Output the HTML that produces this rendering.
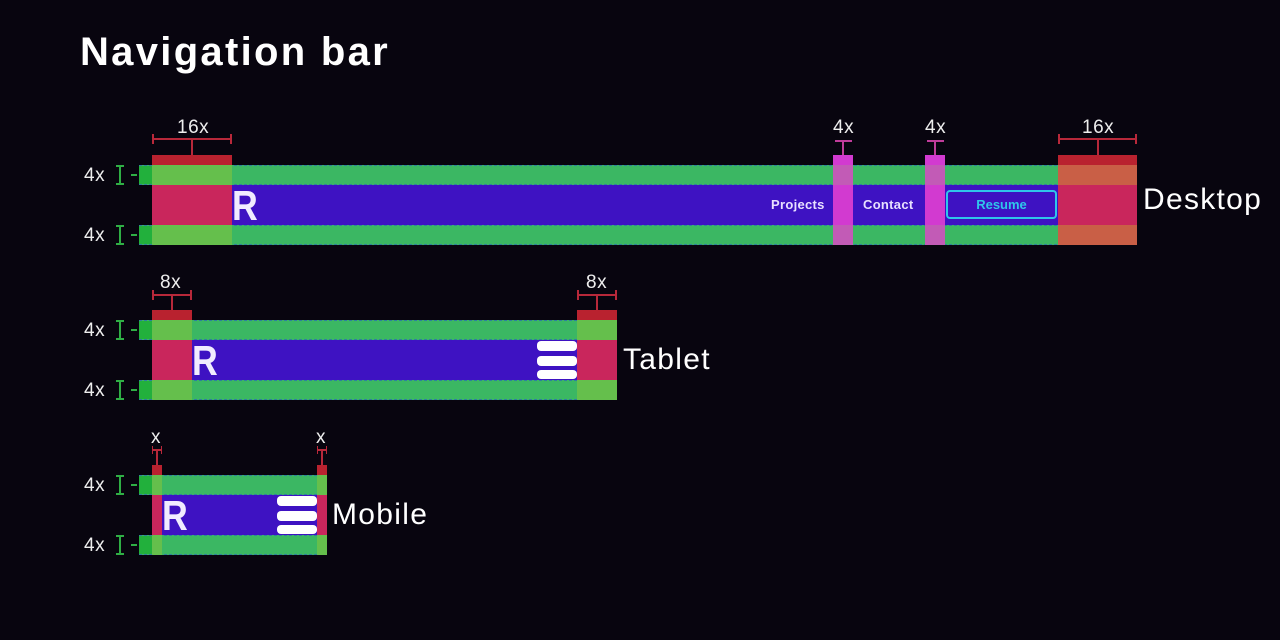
<!DOCTYPE html>
<html><head><style>
body{margin:0;background:#08050f;width:1280px;height:640px;overflow:hidden;position:relative;font-family:"Liberation Sans",sans-serif}
div{position:absolute;box-sizing:border-box}
.g{background:#3bb763;border:1px dashed #2f7fa0}
.gd{background:#22b03c}
.p{background:#3e12c2}
.r{background:#c9265c}
.rt{background:#b9222f}
.gl{background:#65bf4c}
.m{background:#d23ad0}
.mg{background:#c25bb6}
.or{background:#c95f46}
.lbl{color:#eee;font-size:19px;letter-spacing:0.5px}
.side{color:#fff;font-size:30px;letter-spacing:1.3px}
.hb{background:#fff;border-radius:4px}
.R{color:#f1ecff;font-weight:bold;font-size:42px;line-height:40px;transform:scaleX(0.85);transform-origin:left}
.ln{background:#b8283a}
.lnm{background:#c03c9a}
</style></head><body>
<div style="left:80px;top:30px;color:#fff;font-size:40px;font-weight:bold;letter-spacing:2.3px">Navigation bar</div>

<!-- DESKTOP -->
<div class="p" style="left:152px;top:185px;width:985px;height:40px"></div>
<div class="g" style="left:139px;top:165px;width:998px;height:20px"></div>
<div class="g" style="left:139px;top:225px;width:998px;height:20px"></div>
<div class="gd" style="left:139px;top:166px;width:13px;height:18px"></div>
<div class="gd" style="left:139px;top:226px;width:13px;height:18px"></div>
<div class="rt" style="left:152px;top:155px;width:80px;height:10px"></div>
<div class="gl" style="left:152px;top:165px;width:80px;height:20px"></div>
<div class="r" style="left:152px;top:185px;width:80px;height:40px"></div>
<div class="gl" style="left:152px;top:225px;width:80px;height:20px"></div>
<div class="R" style="left:232px;top:186px">R</div>
<div class="rt" style="left:1058px;top:155px;width:79px;height:10px"></div>
<div class="or" style="left:1058px;top:165px;width:79px;height:20px"></div>
<div class="r" style="left:1058px;top:185px;width:79px;height:40px"></div>
<div class="or" style="left:1058px;top:225px;width:79px;height:20px"></div>
<div class="m" style="left:833px;top:155px;width:20px;height:90px"></div>
<div class="mg" style="left:833px;top:165px;width:20px;height:20px"></div>
<div class="mg" style="left:833px;top:225px;width:20px;height:20px"></div>
<div class="m" style="left:925px;top:155px;width:20px;height:90px"></div>
<div class="mg" style="left:925px;top:165px;width:20px;height:20px"></div>
<div class="mg" style="left:925px;top:225px;width:20px;height:20px"></div>
<div style="left:771px;top:197px;color:#e8e0ff;font-size:13px;font-weight:bold;letter-spacing:0.3px">Projects</div>
<div style="left:863px;top:197px;color:#e8e0ff;font-size:13px;font-weight:bold;letter-spacing:0.3px">Contact</div>
<div style="left:946px;top:190px;width:111px;height:29px;border:2px solid #2fc6ea;border-radius:4px;color:#2fc6ea;font-size:13px;font-weight:bold;text-align:center;line-height:25px">Resume</div>
<div class="side" style="left:1143px;top:183px">Desktop</div>
<!-- annotations desktop -->
<div class="lbl" style="left:177px;top:117px">16x</div>
<div class="ln" style="left:152px;top:138px;width:80px;height:2px"></div>
<div class="ln" style="left:152px;top:134px;width:2px;height:10px"></div>
<div class="ln" style="left:230px;top:134px;width:2px;height:10px"></div>
<div class="ln" style="left:191px;top:139px;width:2px;height:16px"></div>
<div class="lbl" style="left:1082px;top:117px">16x</div>
<div class="ln" style="left:1058px;top:138px;width:79px;height:2px"></div>
<div class="ln" style="left:1058px;top:134px;width:2px;height:10px"></div>
<div class="ln" style="left:1135px;top:134px;width:2px;height:10px"></div>
<div class="ln" style="left:1097px;top:139px;width:2px;height:16px"></div>
<div class="lbl" style="left:833px;top:117px">4x</div>
<div class="lnm" style="left:835px;top:140px;width:17px;height:2px"></div>
<div class="lnm" style="left:842px;top:140px;width:2px;height:15px"></div>
<div class="lbl" style="left:925px;top:117px">4x</div>
<div class="lnm" style="left:927px;top:140px;width:17px;height:2px"></div>
<div class="lnm" style="left:934px;top:140px;width:2px;height:15px"></div>

<!-- TABLET -->
<div class="p" style="left:152px;top:340px;width:465px;height:40px"></div>
<div class="g" style="left:139px;top:320px;width:478px;height:20px"></div>
<div class="g" style="left:139px;top:380px;width:478px;height:20px"></div>
<div class="gd" style="left:139px;top:321px;width:13px;height:18px"></div>
<div class="gd" style="left:139px;top:381px;width:13px;height:18px"></div>
<div class="rt" style="left:152px;top:310px;width:40px;height:10px"></div>
<div class="gl" style="left:152px;top:320px;width:40px;height:20px"></div>
<div class="r" style="left:152px;top:340px;width:40px;height:40px"></div>
<div class="gl" style="left:152px;top:380px;width:40px;height:20px"></div>
<div class="rt" style="left:577px;top:310px;width:40px;height:10px"></div>
<div class="gl" style="left:577px;top:320px;width:40px;height:20px"></div>
<div class="r" style="left:577px;top:340px;width:40px;height:40px"></div>
<div class="gl" style="left:577px;top:380px;width:40px;height:20px"></div>
<div class="R" style="left:192px;top:341px">R</div>
<div class="hb" style="left:537px;top:341px;width:40px;height:10px"></div>
<div class="hb" style="left:537px;top:356px;width:40px;height:10px"></div>
<div class="hb" style="left:537px;top:370px;width:40px;height:9px"></div>
<div class="side" style="left:623px;top:343px">Tablet</div>
<div class="lbl" style="left:160px;top:272px">8x</div>
<div class="ln" style="left:152px;top:294px;width:40px;height:2px"></div>
<div class="ln" style="left:152px;top:290px;width:2px;height:10px"></div>
<div class="ln" style="left:190px;top:290px;width:2px;height:10px"></div>
<div class="ln" style="left:171px;top:295px;width:2px;height:15px"></div>
<div class="lbl" style="left:586px;top:272px">8x</div>
<div class="ln" style="left:577px;top:294px;width:40px;height:2px"></div>
<div class="ln" style="left:577px;top:290px;width:2px;height:10px"></div>
<div class="ln" style="left:615px;top:290px;width:2px;height:10px"></div>
<div class="ln" style="left:596px;top:295px;width:2px;height:15px"></div>

<!-- MOBILE -->
<div class="p" style="left:152px;top:495px;width:175px;height:40px"></div>
<div class="g" style="left:139px;top:475px;width:188px;height:20px"></div>
<div class="g" style="left:139px;top:535px;width:188px;height:20px"></div>
<div class="gd" style="left:139px;top:476px;width:13px;height:18px"></div>
<div class="gd" style="left:139px;top:536px;width:13px;height:18px"></div>
<div class="rt" style="left:152px;top:465px;width:10px;height:10px"></div>
<div class="gl" style="left:152px;top:475px;width:10px;height:20px"></div>
<div class="r" style="left:152px;top:495px;width:10px;height:40px"></div>
<div class="gl" style="left:152px;top:535px;width:10px;height:20px"></div>
<div class="rt" style="left:317px;top:465px;width:10px;height:10px"></div>
<div class="gl" style="left:317px;top:475px;width:10px;height:20px"></div>
<div class="r" style="left:317px;top:495px;width:10px;height:40px"></div>
<div class="gl" style="left:317px;top:535px;width:10px;height:20px"></div>
<div class="R" style="left:162px;top:496px">R</div>
<div class="hb" style="left:277px;top:496px;width:40px;height:10px"></div>
<div class="hb" style="left:277px;top:511px;width:40px;height:10px"></div>
<div class="hb" style="left:277px;top:525px;width:40px;height:9px"></div>
<div class="side" style="left:332px;top:498px">Mobile</div>
<div class="lbl" style="left:151px;top:427px">x</div>
<div class="ln" style="left:152px;top:449px;width:10px;height:2px"></div>
<div class="ln" style="left:152px;top:446px;width:1px;height:8px"></div>
<div class="ln" style="left:161px;top:446px;width:1px;height:8px"></div>
<div class="ln" style="left:156px;top:450px;width:2px;height:15px"></div>
<div class="lbl" style="left:316px;top:427px">x</div>
<div class="ln" style="left:317px;top:449px;width:10px;height:2px"></div>
<div class="ln" style="left:317px;top:446px;width:1px;height:8px"></div>
<div class="ln" style="left:326px;top:446px;width:1px;height:8px"></div>
<div class="ln" style="left:321px;top:450px;width:2px;height:15px"></div>

<!-- left 4x labels -->
<div class="lbl" style="left:84px;top:165px">4x</div>
<div class="lbl" style="left:84px;top:225px">4x</div>
<div class="lbl" style="left:84px;top:320px">4x</div>
<div class="lbl" style="left:84px;top:380px">4x</div>
<div class="lbl" style="left:84px;top:475px">4x</div>
<div class="lbl" style="left:84px;top:535px">4x</div>
<svg style="position:absolute;left:0;top:0" width="1280" height="640">
<g stroke="#2fae45" stroke-width="2" fill="none">
<path d="M116 166h8M120 166v18M116 184h8M131 175h6"/>
<path d="M116 226h8M120 226v18M116 244h8M131 235h6"/>
<path d="M116 321h8M120 321v18M116 339h8M131 330h6"/>
<path d="M116 381h8M120 381v18M116 399h8M131 390h6"/>
<path d="M116 476h8M120 476v18M116 494h8M131 485h6"/>
<path d="M116 536h8M120 536v18M116 554h8M131 545h6"/>
</g></svg>
</body></html>
